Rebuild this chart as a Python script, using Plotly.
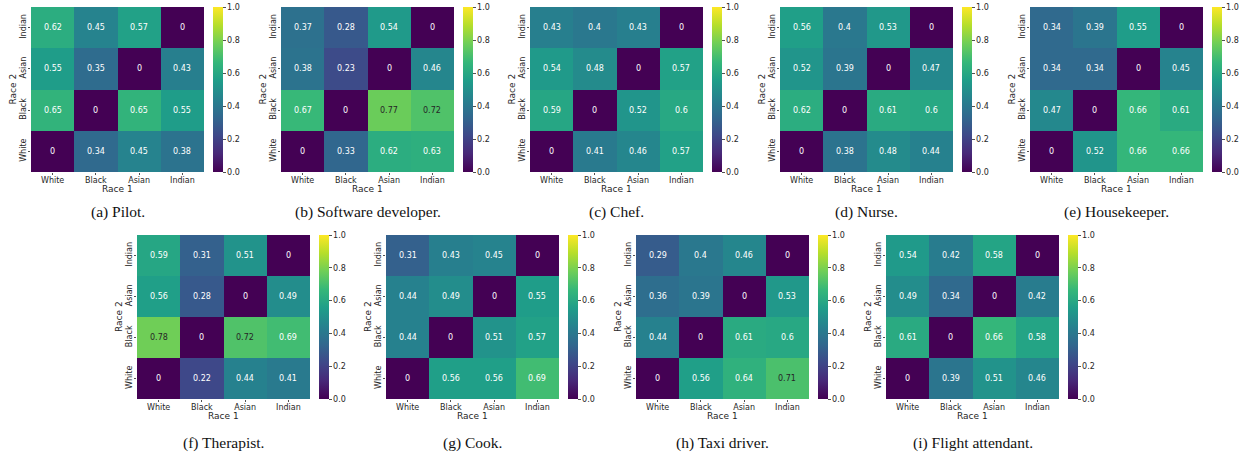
import plotly.graph_objects as go

W, H = 1247, 459

races = ["White", "Black", "Asian", "Indian"]

captions = ["(a) Pilot.", "(b) Software developer.", "(c) Chef.", "(d) Nurse.",
            "(e) Housekeeper.", "(f) Therapist.", "(g) Cook.", "(h) Taxi driver.",
            "(i) Flight attendant."]

# rows: Race 2 = White, Black, Asian, Indian (bottom to top); columns: Race 1
pilot = [[0, 0.34, 0.45, 0.38],
         [0.65, 0, 0.65, 0.55],
         [0.55, 0.35, 0, 0.43],
         [0.62, 0.45, 0.57, 0]]
software_developer = [[0, 0.33, 0.62, 0.63],
                      [0.67, 0, 0.77, 0.72],
                      [0.38, 0.23, 0, 0.46],
                      [0.37, 0.28, 0.54, 0]]
chef = [[0, 0.41, 0.46, 0.57],
        [0.59, 0, 0.52, 0.6],
        [0.54, 0.48, 0, 0.57],
        [0.43, 0.4, 0.43, 0]]
nurse = [[0, 0.38, 0.48, 0.44],
         [0.62, 0, 0.61, 0.6],
         [0.52, 0.39, 0, 0.47],
         [0.56, 0.4, 0.53, 0]]
housekeeper = [[0, 0.52, 0.66, 0.66],
               [0.47, 0, 0.66, 0.61],
               [0.34, 0.34, 0, 0.45],
               [0.34, 0.39, 0.55, 0]]
therapist = [[0, 0.22, 0.44, 0.41],
             [0.78, 0, 0.72, 0.69],
             [0.56, 0.28, 0, 0.49],
             [0.59, 0.31, 0.51, 0]]
cook = [[0, 0.56, 0.56, 0.69],
        [0.44, 0, 0.51, 0.57],
        [0.44, 0.49, 0, 0.55],
        [0.31, 0.43, 0.45, 0]]
taxi_driver = [[0, 0.56, 0.64, 0.71],
               [0.44, 0, 0.61, 0.6],
               [0.36, 0.39, 0, 0.53],
               [0.29, 0.4, 0.46, 0]]
flight_attendant = [[0, 0.39, 0.51, 0.46],
                    [0.61, 0, 0.66, 0.58],
                    [0.49, 0.34, 0, 0.42],
                    [0.54, 0.42, 0.58, 0]]

matrices = [pilot, software_developer, chef, nurse, housekeeper,
            therapist, cook, taxi_driver, flight_attendant]

# layout in pixels
HM_W = 173
lefts = [31, 281, 530, 780, 1030, 137, 386, 636, 886]
tops = [7] * 5 + [235] * 4
bottoms = [172] * 5 + [399] * 4
cap_y = [212] * 5 + [443] * 4

TICKF = dict(family="DejaVu Sans", size=8, color="#262626")

fig = go.Figure()
annotations = []
layout = {}

for i, (mat, cap) in enumerate(zip(matrices, captions)):
    n = i + 1
    xs = "" if n == 1 else str(n)
    x0, x1 = lefts[i], lefts[i] + HM_W
    y0, y1 = tops[i], bottoms[i]
    dx = [x0 / W, x1 / W]
    dy = [1 - y1 / H, 1 - y0 / H]
    fig.add_trace(go.Heatmap(
        z=mat, x=races, y=races, xaxis="x" + xs, yaxis="y" + xs,
        colorscale="Viridis", zmin=0, zmax=1, hoverinfo="skip",
        colorbar=dict(
            x=(x1 + 9) / W, xanchor="left", xpad=0,
            y=(dy[0] + dy[1]) / 2, yanchor="middle", ypad=0,
            len=dy[1] - dy[0], lenmode="fraction", thickness=10,
            outlinewidth=0, tickmode="linear", tick0=0, dtick=0.2,
            tickformat=".1f", ticks="outside", ticklen=3, tickwidth=0.8,
            tickcolor="#262626", tickfont=TICKF),
    ))
    layout["xaxis" + xs] = dict(
        domain=dx, anchor="y" + xs, type="category", categoryarray=races,
        range=[-0.5, 3.5], showgrid=False, zeroline=False, showline=False,
        ticks="outside", ticklen=2, tickwidth=0.8, tickcolor="#262626",
        ticklabelstandoff=-2, automargin=False, tickfont=TICKF)
    layout["yaxis" + xs] = dict(
        domain=dy, anchor="x" + xs, type="category", categoryarray=races,
        range=[-0.5, 3.5], showgrid=False, zeroline=False, showline=False,
        ticks="outside", ticklen=2, tickwidth=0.8, tickcolor="#262626",
        ticklabelstandoff=-1, automargin=False, tickangle=-90, tickfont=TICKF)
    for r, row in enumerate(mat):
        for c, v in enumerate(row):
            annotations.append(dict(
                x=races[c], y=races[r], xref="x" + xs, yref="y" + xs,
                text=f"{v:g}", showarrow=False,
                font=dict(family="DejaVu Sans", size=8,
                          color="#262626" if v > 0.70 else "#ffffff")))
    annotations.append(dict(
        x=(x0 + x1) / 2 / W, y=1 - (y1 + 17) / H, xref="paper", yref="paper",
        text="Race 1", showarrow=False, xanchor="center", yanchor="middle",
        font=dict(family="DejaVu Sans", size=9, color="#262626")))
    annotations.append(dict(
        x=(x0 - 18) / W, y=(dy[0] + dy[1]) / 2, xref="paper", yref="paper",
        text="Race 2", showarrow=False, textangle=-90,
        xanchor="center", yanchor="middle",
        font=dict(family="DejaVu Sans", size=9, color="#262626")))
    annotations.append(dict(
        x=(x0 + x1) / 2 / W, y=1 - cap_y[i] / H, xref="paper", yref="paper",
        text=cap, showarrow=False, xanchor="center", yanchor="middle",
        font=dict(family="Liberation Serif", size=15.5, color="#111111")))

fig.update_layout(
    width=W, height=H, margin=dict(l=0, r=0, t=0, b=0, autoexpand=False),
    paper_bgcolor="white", plot_bgcolor="white", showlegend=False,
    annotations=annotations, **layout)

fig.write_html("out.html",
               config={"displayModeBar": False, "staticPlot": True},
               post_script="document.body.style.margin='0';"
                           "document.body.style.overflow='hidden';")
